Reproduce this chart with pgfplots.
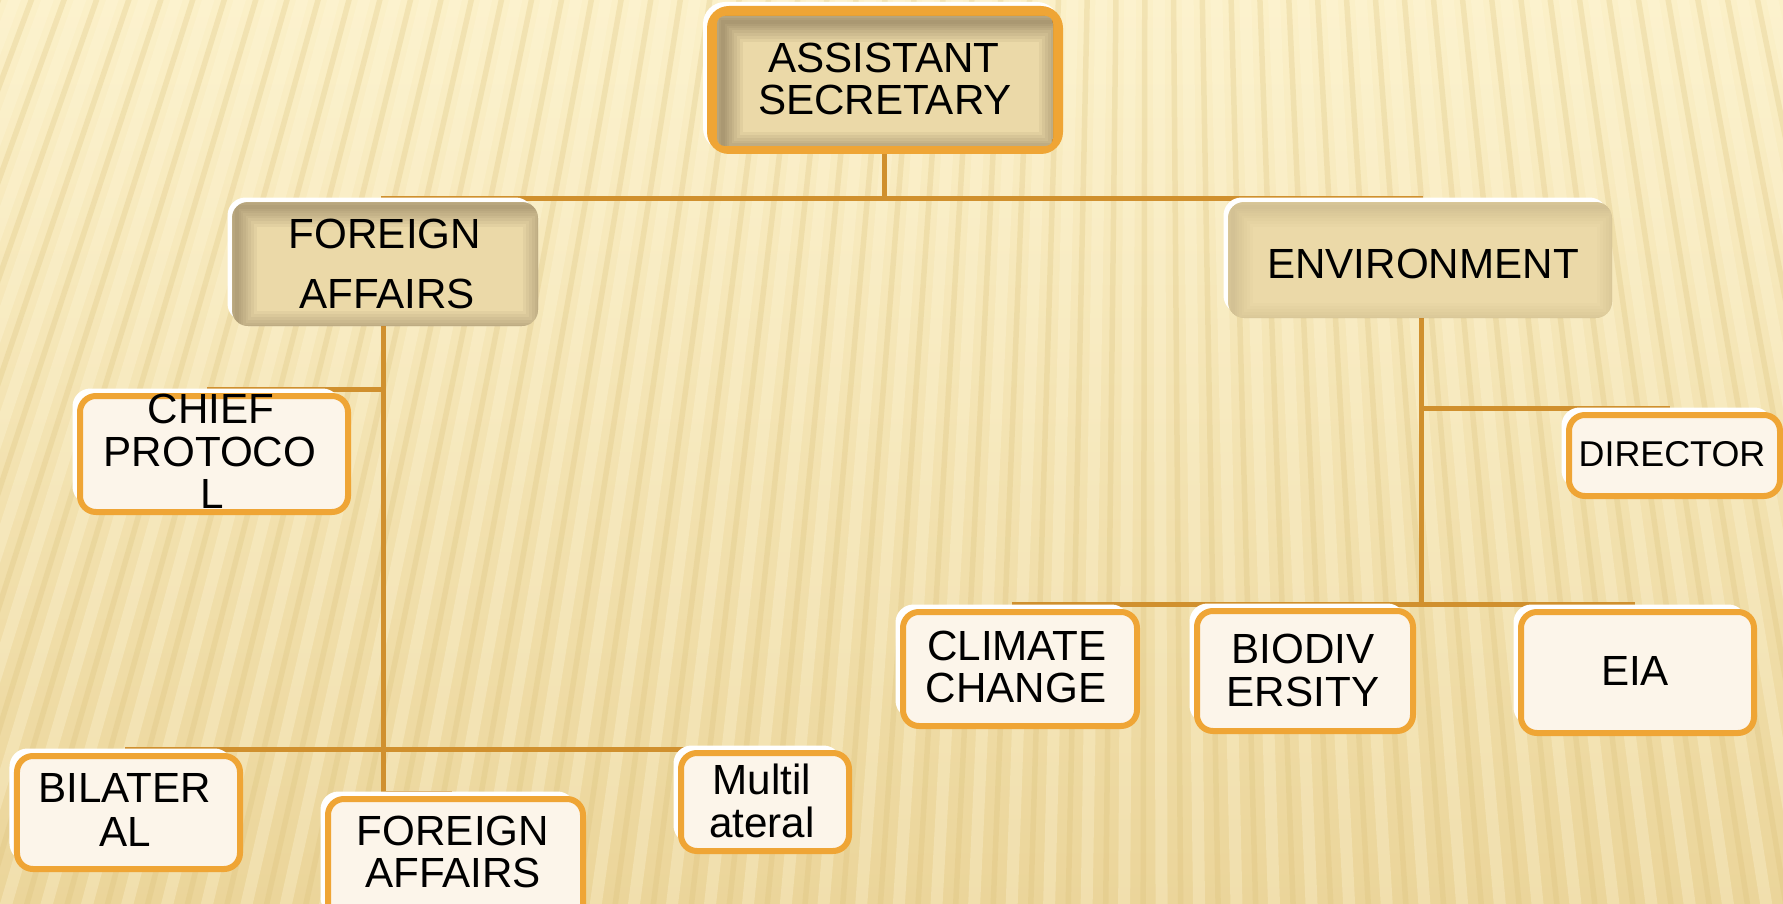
\documentclass[border=0pt]{standalone}
\usepackage{pgfplots}
\pgfplotsset{compat=1.18}
\usepackage{fontspec}
\setmainfont{Liberation Sans}
\definecolor{lineC}{HTML}{D0902E}
\definecolor{bord}{HTML}{EFA535}
\definecolor{cream}{HTML}{FCF5EA}
\definecolor{bgtop}{HTML}{FBF0C8}
\definecolor{bgbot}{HTML}{EBD59A}
\definecolor{stripe}{HTML}{D9BE74}
\definecolor{lightstripe}{HTML}{FFF8DC}
\definecolor{papyrus}{HTML}{EBD9A8}
\definecolor{vig}{HTML}{5E4E36}

% soft inner vignette on rectangle x1 y1 x2 y2, opacity per layer
\newcommand{\vigrect}[5]{%
  \draw[vig, line width=4.0mm, opacity=#5] (axis cs:#1,#2) rectangle (axis cs:#3,#4);
  \draw[vig, line width=3.4mm, opacity=#5] (axis cs:#1,#2) rectangle (axis cs:#3,#4);
  \draw[vig, line width=2.8mm, opacity=#5] (axis cs:#1,#2) rectangle (axis cs:#3,#4);
  \draw[vig, line width=2.2mm, opacity=#5] (axis cs:#1,#2) rectangle (axis cs:#3,#4);
  \draw[vig, line width=1.7mm, opacity=#5] (axis cs:#1,#2) rectangle (axis cs:#3,#4);
  \draw[vig, line width=1.2mm, opacity=#5] (axis cs:#1,#2) rectangle (axis cs:#3,#4);
  \draw[vig, line width=0.8mm, opacity=#5] (axis cs:#1,#2) rectangle (axis cs:#3,#4);
  \draw[vig, line width=0.4mm, opacity=#5] (axis cs:#1,#2) rectangle (axis cs:#3,#4);
}
% orange-bordered cream box: x1 y1 x2 y2 (pixel coordinates, y downward)
\newcommand{\obox}[4]{%
  \fill[white, rounded corners=1.8mm, xshift=-0.45mm, yshift=0.45mm] (axis cs:#1,#2) rectangle (axis cs:#3,#4);
  \draw[bord, line width=0.6mm, fill=cream, rounded corners=1.6mm, xshift=0.3mm, yshift=-0.3mm] (axis cs:#1,#2) rectangle (axis cs:#3,#4);
}
% papyrus box with vignette: x1 y1 x2 y2 opacity
\newcommand{\pbox}[5]{%
  \fill[white, rounded corners=1.8mm, xshift=-0.45mm, yshift=0.45mm] (axis cs:#1,#2) rectangle (axis cs:#3,#4);
  \begin{scope}
    \clip[rounded corners=1.6mm] (axis cs:#1,#2) rectangle (axis cs:#3,#4);
    \fill[papyrus] (axis cs:#1,#2) rectangle (axis cs:#3,#4);
    \begin{scope}[xshift=0.5mm, yshift=-0.5mm]
      \vigrect{#1}{#2}{#3}{#4}{#5}
    \end{scope}
  \end{scope}
}
\newcommand{\lbl}[3]{\node[anchor=base, inner sep=0pt, font=\fontsize{12}{12}\selectfont] at (axis cs:#1,#2) {#3};}

\begin{document}
\begin{tikzpicture}
\path[use as bounding box, clip] (0,0) rectangle (17.83cm,9.03cm);
\begin{axis}[
  at={(0,0)}, anchor=south west,
  width=17.83cm, height=9.03cm, scale only axis,
  xmin=0, xmax=1783, ymin=0, ymax=903, y dir=reverse,
  hide axis, clip=true]

% background
\shade[top color=bgtop, bottom color=bgbot] (axis cs:0,0) rectangle (axis cs:1783,903);
\pgfplotsinvokeforeach{238,238.55,...,300}{
  \draw[stripe, line width=0.55mm, opacity=0.25] (axis cs:1150,-3000) -- ++(#1:45cm);
}
\pgfplotsinvokeforeach{238.27,238.82,...,300}{
  \draw[lightstripe, line width=1.2mm, opacity=0.3] (axis cs:1150,-3000) -- ++(#1:45cm);
}

% connector lines
\addplot[lineC, line width=0.5mm] coordinates {(884,154) (884,198)};
\addplot[lineC, line width=0.5mm] coordinates {(381,198) (1423,198)};
\addplot[lineC, line width=0.5mm] coordinates {(383,320) (383,793) (452,793)};
\addplot[lineC, line width=0.5mm] coordinates {(207,389) (383,389)};
\addplot[lineC, line width=0.5mm] coordinates {(125,749) (760,749)};
\addplot[lineC, line width=0.5mm] coordinates {(1421,310) (1421,604)};
\addplot[lineC, line width=0.5mm] coordinates {(1421,408) (1670,408)};
\addplot[lineC, line width=0.5mm] coordinates {(1012,604) (1635,604)};

% assistant secretary box
\fill[white, rounded corners=2.2mm, xshift=-0.4mm, yshift=0.4mm] (axis cs:707,6) rectangle (axis cs:1063,154);
\fill[bord, rounded corners=2.2mm] (axis cs:707,6) rectangle (axis cs:1063,154);
\begin{scope}
  \clip[rounded corners=0.8mm] (axis cs:717,16) rectangle (axis cs:1053,146);
  \fill[papyrus] (axis cs:717,16) rectangle (axis cs:1053,146);
  \begin{scope}[xshift=0.6mm, yshift=-0.6mm]
    \vigrect{717}{16}{1053}{146}{0.07}
  \end{scope}
\end{scope}

% second level
\pbox{232}{202}{538}{326}{0.06}
\pbox{1228}{202}{1612}{318}{0.018}

% leaf boxes
\obox{77}{393}{345}{509}
\obox{1566}{412}{1777}{493}
\obox{900}{609}{1134}{723}
\obox{1194}{608}{1410}{728}
\obox{1518}{609}{1751}{730}
\obox{14}{753}{237}{866}
\obox{325}{796}{580}{920}
\obox{678}{750}{846}{848}

% labels
\lbl{884}{73}{ASSISTANT}
\lbl{885}{115}{SECRETARY}
\lbl{385}{249}{FOREIGN}
\lbl{387}{308}{AFFAIRS}
\lbl{1423}{279}{ENVIRONMENT}
\lbl{211}{423}{CHIEF}
\lbl{210}{466}{PROTOCO}
\lbl{212}{508}{L}
\node[anchor=base, inner sep=0pt, font=\fontsize{10.2}{10.2}\selectfont] at (axis cs:1672,466) {DIRECTOR};
\lbl{1017}{660}{CLIMATE}
\lbl{1016}{702}{CHANGE}
\lbl{1303}{663}{BIODIV}
\lbl{1303}{706}{ERSITY}
\lbl{1635}{685}{EIA}
\lbl{125}{802}{BILATER}
\lbl{125}{846}{AL}
\lbl{453}{845}{FOREIGN}
\lbl{453}{887}{AFFAIRS}
\lbl{762}{794}{Multil}
\lbl{762}{837}{ateral}
\end{axis}
\end{tikzpicture}
\end{document}
